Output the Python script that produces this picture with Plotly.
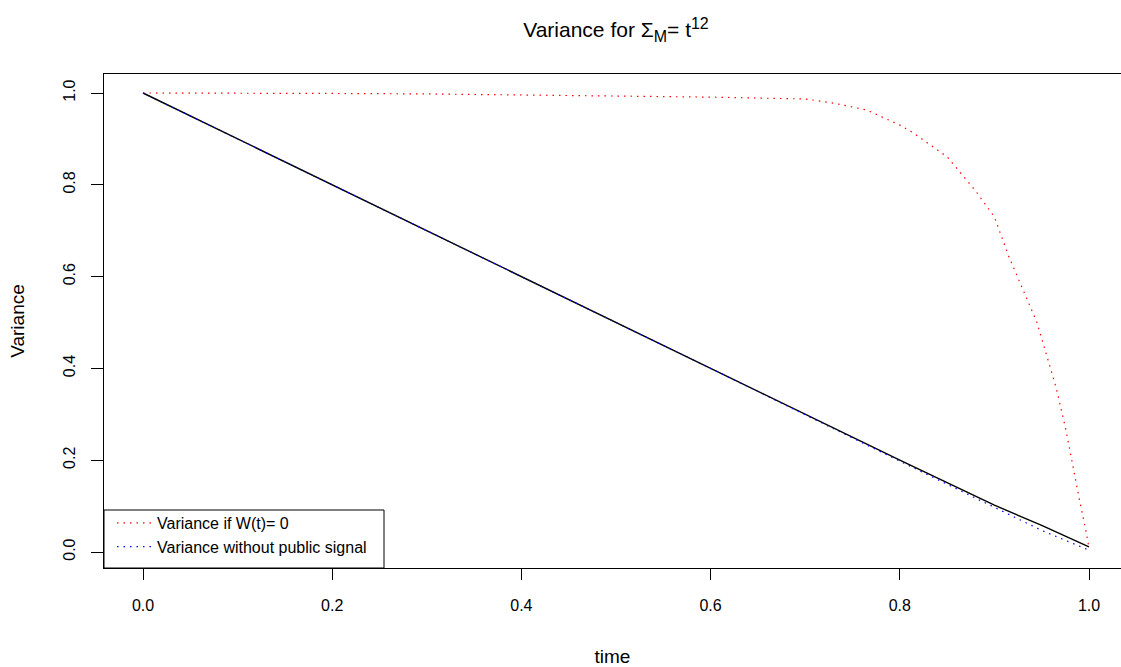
import plotly.graph_objects as go

# --- data ---
t_red = [0.0, 0.1, 0.2, 0.3, 0.4, 0.5, 0.6, 0.7, 0.73, 0.765, 0.80, 0.815, 0.85, 0.88, 0.90, 0.915, 0.93, 0.945, 0.955, 0.965, 0.975, 0.983, 0.99, 0.996, 1.0]
v_red = [1.0, 1.0, 0.999, 0.998, 0.996, 0.994, 0.991, 0.987, 0.978, 0.963, 0.93, 0.912, 0.861, 0.787, 0.73, 0.645, 0.571, 0.50, 0.43, 0.36, 0.272, 0.185, 0.113, 0.054, 0.009]

t_black = [0.0, 0.2, 0.4, 0.6, 0.8, 0.9, 0.95, 1.0]
v_black = [1.0, 0.8, 0.6, 0.4, 0.2, 0.102, 0.058, 0.011]

t_blue = [0.0, 0.2, 0.4, 0.6, 0.8, 0.9, 0.95, 1.0]
v_blue = [1.0, 0.8, 0.6, 0.4, 0.198, 0.098, 0.047, 0.004]

x_ticks = [0.0, 0.2, 0.4, 0.6, 0.8, 1.0]
y_ticks = [0.0, 0.2, 0.4, 0.6, 0.8, 1.0]

FONT = "Liberation Sans, Arial, Helvetica, sans-serif"

fig = go.Figure()
fig.add_trace(go.Scatter(x=t_black, y=v_black, mode="lines",
                         line=dict(color="black", width=1.4), showlegend=False))
fig.add_trace(go.Scatter(x=t_red, y=v_red, mode="lines", name="Variance if W(t)= 0",
                         line=dict(color="#ff0000", width=1.2, dash="1.5px,5px")))
fig.add_trace(go.Scatter(x=t_blue, y=v_blue, mode="lines", name="Variance without public signal",
                         line=dict(color="#0000ff", width=1.2, dash="1.5px,5px")))

W, H = 1121, 667
ml, mr, mt, mb = 104, 0, 74, 99

# legend frame (R-style box at bottom-left)
fig.add_shape(type="rect", xref="paper", yref="paper",
              x0=0, x1=(384 - ml) / (W - ml - mr), y0=0, y1=(568 - 510) / (H - mt - mb),
              line=dict(color="black", width=1), fillcolor="white", layer="below")

fig.update_layout(
    width=W, height=H,
    margin=dict(l=ml, r=mr, t=mt, b=mb),
    paper_bgcolor="white", plot_bgcolor="white",
    font=dict(family=FONT, size=16, color="black"),
    title=dict(text="Variance for Σ<sub><span style='font-size:16px'>M</span></sub>= t<sup><span style='font-size:16px'>12</span></sup>",
               x=616 / W, xanchor="center",
               y=1 - 30 / H, yanchor="middle", font=dict(size=21)),
    xaxis=dict(range=[-39 / 946, 1 + 32 / 946], tickvals=x_ticks, tickformat=".1f",
               showgrid=False, zeroline=False, showline=True, mirror=True,
               linecolor="black", linewidth=1, ticks="outside", ticklen=11,
               tickcolor="black", tickwidth=1, ticklabelstandoff=12,
               title=dict(text="time", standoff=36)),
    yaxis=dict(range=[-16 / 459, 1 + 19 / 459], tickvals=y_ticks, tickformat=".1f",
               showgrid=False, zeroline=False, showline=True, mirror=False,
               linecolor="black", linewidth=1, ticks="outside", ticklen=12,
               tickcolor="black", tickwidth=1, tickangle=-90, ticklabelstandoff=10,
               title=dict(text="Variance", standoff=30)),
    legend=dict(x=8 / (W - ml), y=4 / (H - mt - mb), xanchor="left", yanchor="bottom",
                bgcolor="rgba(0,0,0,0)", borderwidth=0, font=dict(size=16),
                tracegroupgap=0, itemwidth=35),
)

fig.write_html("out.html")
